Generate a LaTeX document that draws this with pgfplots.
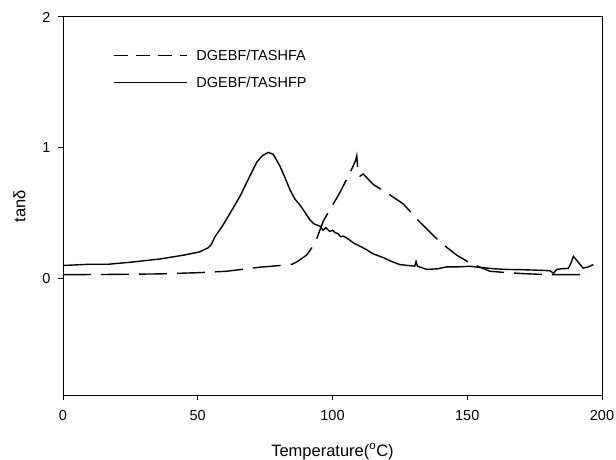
\documentclass[border=0pt]{standalone}
\usepackage{pgfplots}
\pgfplotsset{compat=1.18}
\usepackage{fontspec}
\setmainfont{Liberation Sans}
\begin{document}
\begin{tikzpicture}
\begin{axis}[
  scale only axis,
  width=539bp, height=378bp,
  xmin=0, xmax=200, ymin=-0.89, ymax=2,
  xtick={0,50,100,150,200},
  ytick={0,1,2},
  tick align=outside,
  xtick pos=bottom, ytick pos=left,
  major tick length=5bp,
  /pgf/number format/assume math mode=true,
  tick label style={font=\fontsize{14.5bp}{17bp}\selectfont},
  xticklabel style={yshift=-7bp},
  yticklabel style={xshift=-4bp},
  label style={font=\fontsize{16.5bp}{19bp}\selectfont},
  xlabel={Temperature(\textsuperscript{o}C)},
  ylabel={tanδ},
  xlabel shift=16bp,
  ylabel shift=10bp,
  axis line style={line width=1pt},
  every tick/.style={line width=1pt, black},
  legend style={at={(0.087,0.925)}, anchor=north west, draw=none, fill=none,
    font=\fontsize{14.5bp}{17bp}\selectfont, row sep=11bp, cells={anchor=west}},
  legend cell align=left,
]
\coordinate (o) at (rel axis cs:0,0);
\addplot[black, line width=1.4pt, dash pattern=on 28bp off 10bp,
  legend image code/.code={\draw[black, line width=1.3pt, dash pattern=on 14bp off 8bp] (0bp,0bp) -- (73bp,0bp); \path (80bp,0bp);}]
coordinates {
(0,0.03) (20,0.032) (36,0.036) (50,0.045) (60.7,0.056) (73,0.087) (80.5,0.10) (85,0.11) (87,0.13)
(90.4,0.18) (93.5,0.27) (96.6,0.44) (102.8,0.66) (107.1,0.835) (108.5,0.90) (109,0.94) (109.5,0.80)
(110,0.78) (111.4,0.80) (115.1,0.72) (121.3,0.64) (126.3,0.57) (132.5,0.43) (139.9,0.28) (146,0.18)
(151,0.12) (158.4,0.056) (165,0.045) (170.8,0.038) (180,0.03) (195.5,0.03)
};
\addlegendentry{DGEBF/TASHFA}
\addplot[black, line width=1.4pt,
  legend image code/.code={\draw[black, line width=1.3pt] (0bp,0bp) -- (73bp,0bp); \path (80bp,0bp);}]
coordinates {
(0,0.10) (5,0.105) (10,0.11) (17,0.11) (25,0.125) (36,0.15) (45,0.18) (50.8,0.205) (53.8,0.235)
(55,0.26) (56.4,0.32) (59.4,0.41) (62,0.50) (65.7,0.63) (69,0.77) (71.9,0.89) (74,0.94) (76.2,0.965)
(78,0.95) (80.5,0.86) (82,0.79) (84.2,0.68) (86,0.61) (88,0.56) (90,0.50) (91.6,0.45) (93,0.42)
(95.4,0.40) (96.5,0.37) (97.5,0.39) (99,0.36) (100,0.37) (101,0.35) (102,0.345) (103,0.32) (104,0.325)
(105.3,0.31) (108,0.27) (110,0.25) (112.7,0.22) (115,0.19) (118.9,0.16) (122,0.13) (125,0.107)
(128,0.10) (130.5,0.095) (131,0.13) (131.5,0.095) (135,0.07) (139,0.075) (142.4,0.09) (147,0.09)
(151,0.094) (155,0.085) (160,0.075) (164.6,0.07) (170,0.068) (175,0.065) (180.7,0.06) (182,0.04)
(183.2,0.07) (185,0.075) (187.5,0.078) (188.5,0.12) (189.4,0.17) (191,0.13) (193,0.08) (195,0.09)
(196.8,0.107)
};
\addlegendentry{DGEBF/TASHFP}
\end{axis}
\pgfresetboundingbox
\path (o) ++(-63bp,-65bp) rectangle ++(616bp,460bp);
\end{tikzpicture}
\end{document}
